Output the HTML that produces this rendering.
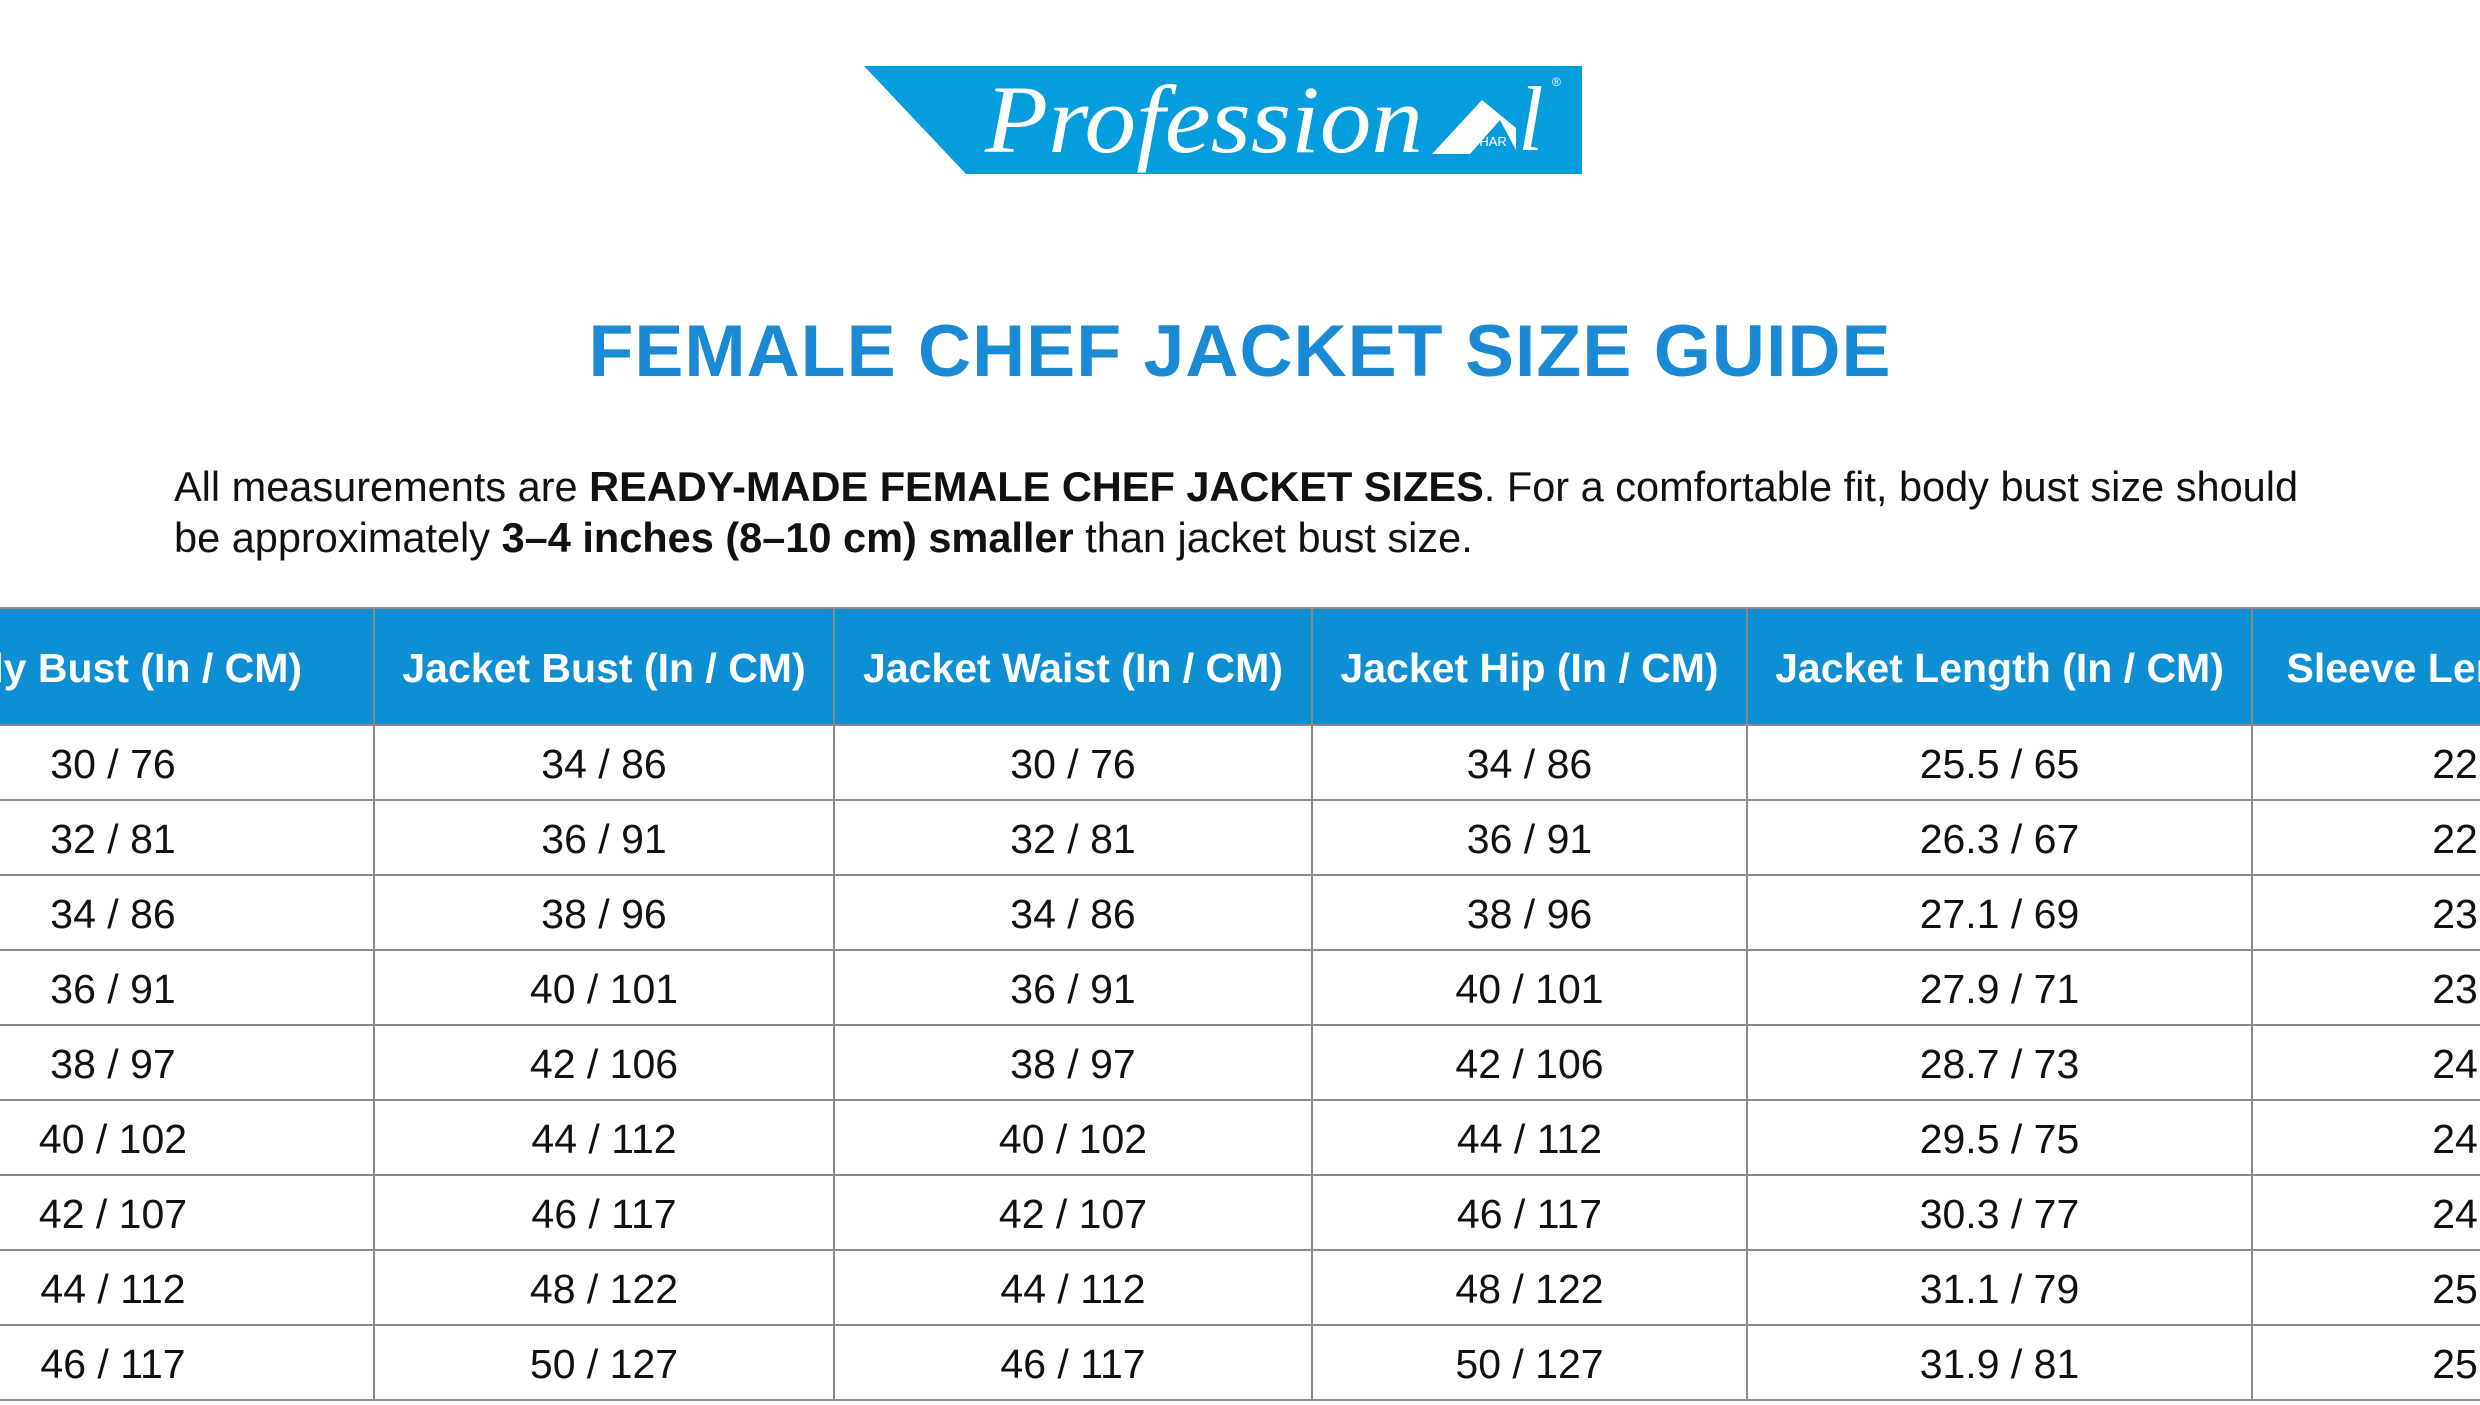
<!DOCTYPE html>
<html><head><meta charset="utf-8"><style>
html,body{margin:0;padding:0;background:#fff;}
body{width:2480px;height:1405px;position:relative;overflow:hidden;font-family:"Liberation Sans",sans-serif;}
#wrap{position:absolute;left:0;top:0;width:2480px;height:1405px;overflow:hidden;}
#title{position:absolute;left:0;width:2480px;top:308px;text-align:center;font-weight:bold;font-size:73.5px;color:#1a8ad4;letter-spacing:1px;}
#para{position:absolute;left:174px;top:461px;width:2160px;font-size:41.5px;line-height:51px;color:#111;}
table{position:absolute;left:-149px;top:607px;width:2920px;border-collapse:collapse;table-layout:fixed;}
td,th{border:2px solid #8a8a8a;text-align:center;font-size:41px;padding:4px 0 0 0;white-space:nowrap;overflow:hidden;}
th{background:#0e8fd4;color:#fff;height:111px;font-weight:bold;}
td{height:69px;color:#111;}
</style></head><body><div id="wrap">
<svg width="2480" height="200" style="position:absolute;left:0;top:0">
<polygon points="864,66 1582,66 1582,174 966,174" fill="#069ddf"/>
<text x="985" y="152" font-family="Liberation Serif" font-style="italic" font-size="96" fill="#fff" textLength="438" lengthAdjust="spacingAndGlyphs">Profession</text>
<polygon points="1432,154 1482,100 1516,128 1516,150 1500,120 1470,154" fill="#fff"/>
<text x="1462" y="146" font-family="Liberation Sans" font-size="13" fill="#fff">ASHAR</text>
<text x="1518" y="150" font-family="Liberation Serif" font-style="italic" font-size="92" fill="#fff">l</text>
<text x="1552" y="86" font-family="Liberation Sans" font-size="12" fill="#fff">®</text>
</svg>
<div id="title">FEMALE CHEF JACKET SIZE GUIDE</div>
<div id="para">All measurements are <b>READY-MADE FEMALE CHEF JACKET SIZES</b>. For a comfortable fit, body bust size should be approximately <b>3–4 inches (8–10 cm) smaller</b> than jacket bust size.</div>
<table>
<colgroup><col style="width:522px"><col style="width:460px"><col style="width:478px"><col style="width:435px"><col style="width:505px"><col style="width:520px"></colgroup>
<tr><th>Body Bust (In / CM)</th><th>Jacket Bust (In / CM)</th><th>Jacket Waist (In / CM)</th><th>Jacket Hip (In / CM)</th><th>Jacket Length (In / CM)</th><th>Sleeve Length (In / CM)</th></tr>
<tr><td>30 / 76</td><td>34 / 86</td><td>30 / 76</td><td>34 / 86</td><td>25.5 / 65</td><td>22.5 / 57</td></tr>
<tr><td>32 / 81</td><td>36 / 91</td><td>32 / 81</td><td>36 / 91</td><td>26.3 / 67</td><td>22.8 / 58</td></tr>
<tr><td>34 / 86</td><td>38 / 96</td><td>34 / 86</td><td>38 / 96</td><td>27.1 / 69</td><td>23.2 / 59</td></tr>
<tr><td>36 / 91</td><td>40 / 101</td><td>36 / 91</td><td>40 / 101</td><td>27.9 / 71</td><td>23.6 / 60</td></tr>
<tr><td>38 / 97</td><td>42 / 106</td><td>38 / 97</td><td>42 / 106</td><td>28.7 / 73</td><td>24.0 / 61</td></tr>
<tr><td>40 / 102</td><td>44 / 112</td><td>40 / 102</td><td>44 / 112</td><td>29.5 / 75</td><td>24.4 / 62</td></tr>
<tr><td>42 / 107</td><td>46 / 117</td><td>42 / 107</td><td>46 / 117</td><td>30.3 / 77</td><td>24.8 / 63</td></tr>
<tr><td>44 / 112</td><td>48 / 122</td><td>44 / 112</td><td>48 / 122</td><td>31.1 / 79</td><td>25.2 / 64</td></tr>
<tr><td>46 / 117</td><td>50 / 127</td><td>46 / 117</td><td>50 / 127</td><td>31.9 / 81</td><td>25.6 / 65</td></tr>
</table>
</div></body></html>
